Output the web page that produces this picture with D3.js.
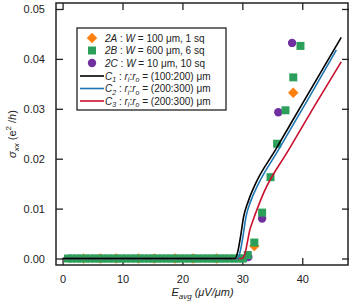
<!DOCTYPE html>
<html>
<head>
<meta charset="utf-8">
<script src="https://cdn.jsdelivr.net/npm/d3@7"></script>
<style>
  body { margin: 0; background: #fff; }
  svg { font-family: "Liberation Sans", Arial, sans-serif; }
</style>
</head>
<body>
<div id="chart"></div>
<script>
// measured points
const xA = [3.5, 6.3, 9.0, 12.7, 15.3, 18.8, 21.8, 25.7, 32.0, 38.5];
const yA = [0, 0, 0, 0, 0, 0, 0, 0, 0.0025, 0.0332];

const xB = [0.9, 1.6, 2.4, 3.1, 3.9, 4.6, 5.4, 6.1, 6.9, 7.6, 8.4, 9.1, 9.9, 10.6, 11.4,
  12.1, 12.9, 13.6, 14.4, 15.1, 15.9, 16.6, 17.4, 18.1, 18.9, 19.6, 20.4, 21.1, 21.9,
  22.6, 23.4, 24.1, 24.9, 25.6, 26.4, 27.1, 27.9, 28.6, 29.4, 30.1, 30.9,
  32.0, 33.3, 34.7, 35.8, 37.2, 38.5, 39.7];
const yB = [0, 0, 0, 0, 0, 0, 0, 0, 0, 0, 0, 0, 0, 0, 0,
  0, 0, 0, 0, 0, 0, 0, 0, 0, 0, 0, 0, 0, 0,
  0, 0, 0, 0, 0, 0, 0, 0, 0, 0, 0, 0.0007,
  0.0032, 0.0092, 0.0163, 0.0230, 0.0297, 0.0363, 0.0426];

const xC = [31.0, 33.3, 36.0, 38.3];
const yC = [0.0003, 0.0080, 0.0293, 0.0432];

// model curves
const xC1 = [0, 28.8, 29.3, 29.7, 30.2, 31.0, 32.2, 35.5, 40.0, 46.5];
const yC1 = [0, 0, 0.0017, 0.0044, 0.0083, 0.0115, 0.0150, 0.0217, 0.0310, 0.0443];
const xC2 = [0, 29.2, 29.7, 30.1, 30.6, 31.4, 32.7, 36.0, 41.0, 45.7];
const yC2 = [0, 0, 0.0017, 0.0044, 0.0083, 0.0115, 0.0150, 0.0217, 0.0320, 0.0418];
const xC3 = [0, 29.9, 30.4, 30.8, 31.2, 31.8, 32.5, 33.5, 37.7, 42.0, 46.5];
const yC3 = [0, 0, 0.0008, 0.0030, 0.0055, 0.0077, 0.0100, 0.0130, 0.0217, 0.0305, 0.0394];

const xTicks = [0, 10, 20, 30, 40];
const xMinor = d3.range(0, 48, 2);
const yTicks = [0, 0.01, 0.02, 0.03, 0.04, 0.05];

const W = 350, H = 303;
const m = {left: 56, right: 1, top: 3, bottom: 38};

const svg = d3.select("#chart").append("svg")
  .attr("width", W)
  .attr("height", H);

const x = d3.scaleLinear().domain([-1.1, 47.8]).range([m.left, W - m.right]);
const y = d3.scaleLinear().domain([-0.0013, 0.0512]).range([H - m.bottom, m.top]);

const orange = "#ff7f0e", green = "#2ca05a", purple = "#7030a0";
const black = "#000", blue = "#1f77b4", red = "#c8102e";

// axes, ticks pointing in
const gx = svg.append("g").attr("transform", `translate(0,${H - m.bottom})`);
gx.call(d3.axisBottom(x).tickValues(xMinor).tickSize(-4).tickFormat(""));
gx.call(d3.axisBottom(x).tickValues(xTicks).tickSize(-7).tickPadding(10));
gx.selectAll(".domain").remove();

const gt = svg.append("g").attr("transform", `translate(0,${m.top})`);
gt.call(d3.axisTop(x).tickValues(xMinor).tickSize(-4).tickFormat(""));
gt.call(d3.axisTop(x).tickValues(xTicks).tickSize(-7).tickFormat(""));
gt.selectAll(".domain").remove();

const gy = svg.append("g").attr("transform", `translate(${m.left},0)`);
gy.call(d3.axisLeft(y).tickValues(yTicks).tickSize(-7).tickPadding(11).tickFormat(d3.format(".2f")));
gy.selectAll(".domain").remove();

const gr = svg.append("g").attr("transform", `translate(${W - m.right},0)`);
gr.call(d3.axisRight(y).tickValues(yTicks).tickSize(-7).tickFormat(""));
gr.selectAll(".domain").remove();

svg.selectAll(".tick line").attr("stroke", "#222").attr("stroke-width", 1.3);
svg.selectAll(".tick text").attr("font-size", 11).attr("fill", "#222")
  .attr("font-family", "'Liberation Sans', Arial, sans-serif");

svg.append("rect")
  .attr("x", m.left).attr("y", m.top)
  .attr("width", W - m.right - m.left - 1)
  .attr("height", H - m.bottom - m.top)
  .attr("fill", "none").attr("stroke", "#222").attr("stroke-width", 1.5);

// markers (drawing order: purple, orange, green)
const toPts = (xs, ys) => xs.map((v, i) => [v, ys[i]]);

svg.append("g").selectAll("circle").data(toPts(xC, yC)).join("circle")
  .attr("cx", d => x(d[0])).attr("cy", d => y(d[1])).attr("r", 4.2)
  .attr("fill", purple);

const dia = d3.symbol().type(d3.symbolDiamond2).size(70);
svg.append("g").selectAll("path").data(toPts(xA, yA)).join("path")
  .attr("d", dia)
  .attr("transform", d => `translate(${x(d[0])},${y(d[1])})`)
  .attr("fill", orange);

svg.append("g").selectAll("rect").data(toPts(xB, yB)).join("rect")
  .attr("x", d => x(d[0]) - 4).attr("y", d => y(d[1]) - 4)
  .attr("width", 8).attr("height", 8)
  .attr("fill", green);

// curves
const line = d3.line().x(d => x(d[0])).y(d => y(d[1])).curve(d3.curveMonotoneX);
[[xC3, yC3, red], [xC2, yC2, blue], [xC1, yC1, black]].forEach(([xs, ys, c]) => {
  svg.append("path").datum(toPts(xs, ys))
    .attr("d", line).attr("fill", "none")
    .attr("stroke", c).attr("stroke-width", 1.6);
});

// axis titles
const yl = svg.append("text")
  .attr("transform", `translate(16,${(m.top + H - m.bottom) / 2}) rotate(-90)`)
  .attr("text-anchor", "middle").attr("font-size", 11).attr("fill", "#222");
yl.append("tspan").attr("font-style", "italic").text("σ");
yl.append("tspan").attr("font-style", "italic").attr("font-size", 8).attr("dy", 3).text("xx");
yl.append("tspan").attr("dy", -3).text(" (e");
yl.append("tspan").attr("font-size", 8).attr("dy", -5).text("2");
yl.append("tspan").attr("dy", 5).text(" /");
yl.append("tspan").attr("font-style", "italic").text("h");
yl.append("tspan").text(")");

const xl = svg.append("text")
  .attr("x", (m.left + W - m.right) / 2).attr("y", 296)
  .attr("text-anchor", "middle").attr("font-size", 11).attr("fill", "#222")
  .attr("font-style", "italic");
xl.append("tspan").text("E");
xl.append("tspan").attr("font-size", 8).attr("dy", 3).text("avg");
xl.append("tspan").attr("dy", -3).text(" (μV/μm)");

// legend
const lg = svg.append("g").attr("font-size", 10).attr("fill", "#222");
lg.append("rect").attr("x", 77).attr("y", 28).attr("width", 149).attr("height", 82)
  .attr("fill", "#fff").attr("stroke", "#222").attr("stroke-width", 1.3);

const rowY = [38, 50.5, 63, 76, 88.5, 101];
const mx = 92, tx = 105;

lg.append("path").attr("d", dia).attr("transform", `translate(${mx},${rowY[0]})`).attr("fill", orange);
lg.append("rect").attr("x", mx - 4).attr("y", rowY[1] - 4).attr("width", 8).attr("height", 8).attr("fill", green);
lg.append("circle").attr("cx", mx).attr("cy", rowY[2]).attr("r", 4.2).attr("fill", purple);
[black, blue, red].forEach((c, i) => {
  lg.append("line").attr("x1", 80).attr("x2", 104)
    .attr("y1", rowY[3 + i]).attr("y2", rowY[3 + i])
    .attr("stroke", c).attr("stroke-width", 1.6);
});

const samples = [["2A", "100", "1"], ["2B", "600", "6"], ["2C", "10", "10"]];
samples.forEach((s, i) => {
  const t = lg.append("text").attr("x", tx).attr("y", rowY[i] + 3.5);
  t.append("tspan").attr("font-style", "italic").text(s[0]);
  t.append("tspan").text(" : ");
  t.append("tspan").attr("font-style", "italic").text("W");
  t.append("tspan").text(` = ${s[1]} μm, ${s[2]} sq`);
});

const models = [["1", "100:200"], ["2", "200:300"], ["3", "200:300"]];
models.forEach((s, i) => {
  const t = lg.append("text").attr("x", tx).attr("y", rowY[3 + i] + 3.5);
  t.append("tspan").attr("font-style", "italic").text("C");
  t.append("tspan").attr("font-style", "italic").attr("font-size", 7).attr("dy", 2.5).text(s[0]);
  t.append("tspan").attr("dy", -2.5).text(" : ");
  t.append("tspan").attr("font-style", "italic").text("r");
  t.append("tspan").attr("font-style", "italic").attr("font-size", 7).attr("dy", 2.5).text("i");
  t.append("tspan").attr("dy", -2.5).text(":");
  t.append("tspan").attr("font-style", "italic").text("r");
  t.append("tspan").attr("font-style", "italic").attr("font-size", 7).attr("dy", 2.5).text("o");
  t.append("tspan").attr("dy", -2.5).text(` = (${s[1]}) μm`);
});
</script>
</body>
</html>
